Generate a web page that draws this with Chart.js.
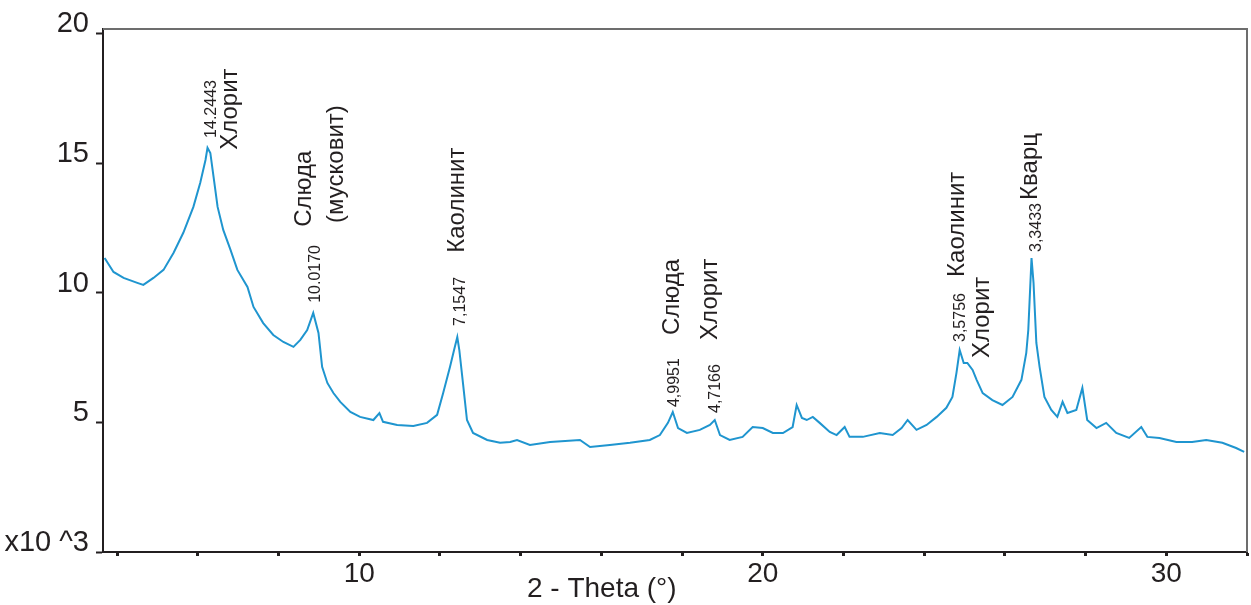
<!DOCTYPE html>
<html>
<head>
<meta charset="utf-8">
<script src="https://cdn.jsdelivr.net/npm/chart.js@4.4.1/dist/chart.umd.min.js"></script>
<style>
  body { margin: 0; background: #fff; }
</style>
</head>
<body>
<canvas id="chartXrd" width="1251" height="605"></canvas>
<script>
// 2-theta positions (degrees) and counts (x10^3)
const twoTheta = [
    3.69, 3.91, 4.16, 4.50, 4.65, 4.90, 5.15, 5.40, 5.64, 5.89,
    6.06, 6.19, 6.24, 6.31, 6.39, 6.49, 6.63, 6.81, 6.98, 7.23,
    7.38, 7.62, 7.87, 8.12, 8.37, 8.54, 8.71, 8.86, 8.99, 9.08,
    9.21, 9.36, 9.53, 9.78, 10.02, 10.35, 10.50, 10.59, 10.94, 11.34,
    11.68, 11.93, 12.08, 12.25, 12.35, 12.43, 12.48, 12.57, 12.67, 12.82,
    13.17, 13.49, 13.74, 13.91, 14.23, 14.73, 15.47, 15.72, 16.21, 16.71,
    17.20, 17.45, 17.65, 17.77, 17.90, 18.12, 18.44, 18.69, 18.81, 18.94,
    19.18, 19.50, 19.75, 20.00, 20.25, 20.50, 20.74, 20.84, 20.97, 21.09,
    21.24, 21.41, 21.66, 21.83, 22.03, 22.15, 22.48, 22.90, 23.22, 23.44,
    23.59, 23.81, 24.06, 24.31, 24.55, 24.70, 24.80, 24.88, 24.98, 25.07,
    25.20, 25.30, 25.45, 25.69, 25.94, 26.19, 26.41, 26.53, 26.58, 26.66,
    26.71, 26.78, 26.86, 26.98, 27.15, 27.30, 27.43, 27.55, 27.77, 27.92,
    28.04, 28.27, 28.51, 28.76, 29.08, 29.38, 29.53, 29.83, 30.25, 30.64,
    30.99, 31.39, 31.73, 31.93
];
const counts = [
    11.34, 10.80, 10.57, 10.38, 10.30, 10.57, 10.88, 11.54, 12.31, 13.31,
    14.24, 15.12, 15.59, 15.39, 14.47, 13.31, 12.42, 11.65, 10.88, 10.22,
    9.45, 8.83, 8.37, 8.10, 7.91, 8.18, 8.56, 9.22, 8.45, 7.14,
    6.52, 6.13, 5.79, 5.40, 5.21, 5.09, 5.36, 5.02, 4.90, 4.86,
    4.98, 5.29, 6.13, 7.14, 7.79, 8.29, 7.79, 6.52, 5.09, 4.59,
    4.32, 4.21, 4.24, 4.32, 4.13, 4.24, 4.32, 4.05, 4.13, 4.21,
    4.32, 4.51, 4.98, 5.40, 4.78, 4.59, 4.71, 4.90, 5.09, 4.51,
    4.32, 4.44, 4.82, 4.78, 4.59, 4.59, 4.82, 5.67, 5.17, 5.09,
    5.21, 4.98, 4.63, 4.51, 4.82, 4.44, 4.44, 4.59, 4.51, 4.78,
    5.09, 4.71, 4.90, 5.21, 5.56, 5.98, 6.91, 7.79, 7.29, 7.29,
    7.02, 6.64, 6.13, 5.86, 5.67, 5.98, 6.64, 7.68, 8.56, 11.34,
    10.38, 8.06, 7.14, 5.98, 5.48, 5.21, 5.79, 5.36, 5.48, 6.33,
    5.09, 4.78, 4.98, 4.59, 4.40, 4.82, 4.44, 4.40, 4.24, 4.24,
    4.32, 4.21, 4.01, 3.86
];

const xTicks = [4, 6, 8, 10, 12, 14, 16, 18, 20, 22, 24, 26, 28, 30, 32];
const xTickLabels = [10, 20, 30];
const yTicks = [0, 5, 10, 15, 20];
const yUnitLabel = 'x10 ^3';
const xTitle = '2 - Theta (°)';

// peak labels: text, 2-theta and count where the rotated text starts, big/small
const labelText = ['14.2443', 'Хлорит', 'Слюда', '(мусковит)', '10.0170', 'Каолинит', '7,1547',
    'Слюда', '4,9951', 'Хлорит', '4,7166', 'Каолинит', '3,5756', 'Хлорит', 'Кварц', '3,3433'];
const labelX = [6.34, 6.81, 8.64, 9.43, 8.91, 12.43, 12.52,
    17.77, 17.82, 18.69, 18.84, 24.83, 24.90, 25.45, 26.63, 26.78];
const labelY = [15.97, 15.51, 12.54, 12.69, 9.61, 11.54, 8.72,
    8.37, 5.59, 8.18, 5.36, 10.61, 8.10, 7.48, 13.58, 11.57];
const labelBig = [false, true, true, true, false, true, false,
    true, false, true, false, true, false, true, true, false];

const fontFamily = '"Liberation Sans", Arial, sans-serif';
const inkColor = '#231f20';

const points = twoTheta.map((t, i) => ({ x: t, y: counts[i] }));

const peakLabels = {
    id: 'peakLabels',
    afterDatasetsDraw(chart) {
        const ctx = chart.ctx;
        const xs = chart.scales.x;
        const ys = chart.scales.y;
        ctx.save();
        ctx.fillStyle = inkColor;
        for (let i = 0; i < labelText.length; i++) {
            ctx.save();
            ctx.translate(xs.getPixelForValue(labelX[i]), ys.getPixelForValue(labelY[i]));
            ctx.rotate(-Math.PI / 2);
            ctx.font = (labelBig[i] ? '24px ' : '16px ') + fontFamily;
            ctx.textAlign = 'left';
            ctx.textBaseline = 'middle';
            ctx.fillText(labelText[i], 0, 0);
            ctx.restore();
        }
        // frame: top and right edges
        const a = chart.chartArea;
        ctx.strokeStyle = '#6d6d6d';
        ctx.lineWidth = 2;
        ctx.beginPath();
        ctx.moveTo(a.left, a.top);
        ctx.lineTo(a.right, a.top);
        ctx.lineTo(a.right, a.bottom);
        ctx.stroke();
        // x axis title
        ctx.font = '28px ' + fontFamily;
        ctx.textAlign = 'center';
        ctx.textBaseline = 'alphabetic';
        ctx.fillText(xTitle, a.left + a.width * 0.436, a.bottom + 45);
        ctx.restore();
    }
};

new Chart(document.getElementById('chartXrd').getContext('2d'), {
    type: 'line',
    data: {
        datasets: [{
            data: points,
            borderColor: '#1f95cf',
            borderWidth: 2,
            pointRadius: 0,
            tension: 0,
            fill: false
        }]
    },
    options: {
        responsive: false,
        animation: false,
        devicePixelRatio: 1,
        layout: { padding: { top: 29, right: 4, left: 0, bottom: 0 } },
        plugins: {
            legend: { display: false },
            tooltip: { enabled: false }
        },
        scales: {
            x: {
                type: 'linear',
                min: 3.65,
                max: 32,
                afterBuildTicks: (scale) => { scale.ticks = xTicks.map(v => ({ value: v })); },
                afterFit: (scale) => { scale.height = 53; },
                grid: { drawOnChartArea: false, drawTicks: true, tickLength: 4, tickWidth: 3, tickColor: inkColor },
                border: { display: true, color: inkColor, width: 2 },
                ticks: {
                    autoSkip: false,
                    maxRotation: 0,
                    padding: 1,
                    color: inkColor,
                    font: { family: fontFamily, size: 28 },
                    callback: (v) => xTickLabels.includes(v) ? String(v) : ''
                }
            },
            y: {
                min: 0,
                max: 20.17,
                afterBuildTicks: (scale) => { scale.ticks = yTicks.map(v => ({ value: v })); },
                afterFit: (scale) => { scale.width = 103; },
                grid: { drawOnChartArea: false, drawTicks: true, tickLength: 7, tickWidth: 2, tickColor: inkColor },
                border: { display: true, color: inkColor, width: 2 },
                ticks: {
                    padding: 7,
                    labelOffset: -9,
                    color: inkColor,
                    font: { family: fontFamily, size: 29 },
                    callback: (v) => v === 0 ? yUnitLabel : String(v)
                }
            }
        }
    },
    plugins: [peakLabels]
});
</script>
</body>
</html>
